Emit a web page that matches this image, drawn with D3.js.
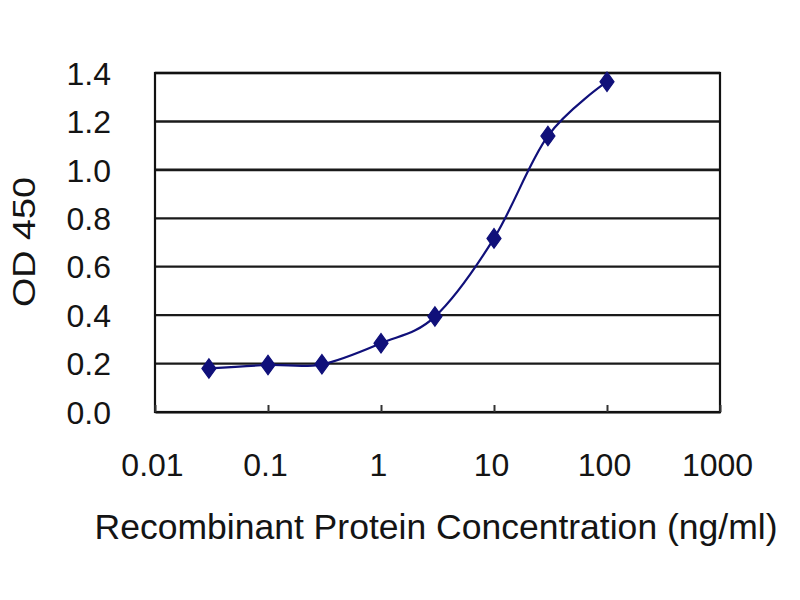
<!DOCTYPE html>
<html><head><meta charset="utf-8">
<script src="https://cdn.jsdelivr.net/npm/d3@7"></script>
<style>html,body{margin:0;padding:0;background:#fff;}svg{display:block;}</style>
</head><body>
<svg id="c" width="800" height="600"></svg>
<script>
const concentrations = [0.03, 0.1, 0.3, 1, 3, 10, 30, 100];
const odValues = [0.18, 0.194, 0.197, 0.284, 0.394, 0.717, 1.14, 1.364];
const xTickValues = [0.01, 0.1, 1, 10, 100, 1000];
const xTickLabels = ["0.01", "0.1", "1", "10", "100", "1000"];
const yTickValues = [0, 0.2, 0.4, 0.6, 0.8, 1.0, 1.2, 1.4];
const yTickLabels = ["0.0", "0.2", "0.4", "0.6", "0.8", "1.0", "1.2", "1.4"];
const xTitle = "Recombinant Protein Concentration (ng/ml)";
const yTitle = "OD 450";

const svg = d3.select("#c");
const L = 155, R = 720, T = 73, B = 412;
const x = d3.scaleLog().domain([0.01, 1000]).range([L, R]);
const y = d3.scaleLinear().domain([0, 1.4]).range([B, T]);
const font = "'Liberation Sans', Arial, sans-serif";
const navy = "#10107a";

// gridlines
svg.append("g").selectAll("line").data(yTickValues.slice(1)).join("line")
  .attr("x1", L).attr("x2", R)
  .attr("y1", d => y(d)).attr("y2", d => y(d))
  .attr("stroke", "#1a1a1a").attr("stroke-width", d => d >= 1.0 ? 2.6 : 2.2);

// frame
svg.append("rect").attr("x", L).attr("y", T).attr("width", R - L).attr("height", B - T)
  .attr("fill", "none").attr("stroke", "#111").attr("stroke-width", 2.2);

// x axis with inside ticks
const xAxis = d3.axisBottom(x).tickValues(xTickValues)
  .tickFormat((d, i) => xTickLabels[i]).tickSizeInner(-7).tickSizeOuter(0).tickPadding(0);
const gx = svg.append("g").attr("transform", `translate(0,${B})`).call(xAxis);
gx.select(".domain").attr("stroke", "#111").attr("stroke-width", 2.2);
gx.selectAll(".tick line").attr("stroke", "#333").attr("stroke-width", 2);
gx.selectAll(".tick text").attr("font-family", font).attr("font-size", 32).attr("fill", "#141414")
  .attr("dy", 0).attr("y", 64).attr("x", -3);

// y axis labels
const yAxis = d3.axisLeft(y).tickValues(yTickValues)
  .tickFormat((d, i) => yTickLabels[i]).tickSize(0).tickPadding(0);
const gy = svg.append("g").attr("transform", `translate(${L},0)`).call(yAxis);
gy.select(".domain").remove();
gy.selectAll(".tick text").attr("font-family", font).attr("font-size", 32).attr("fill", "#141414")
  .attr("x", -44).attr("dy", "0.35em");

// curve
const line = d3.line().x(d => x(d[0])).y(d => y(d[1])).curve(d3.curveCardinal.tension(0));
const pts = concentrations.map((c, i) => [c, odValues[i]]);
svg.append("path").datum(pts).attr("d", line).attr("fill", "none")
  .attr("stroke", navy).attr("stroke-width", 2.2);

// diamond markers
const sym = d3.symbol().type(d3.symbolDiamond).size(110);
svg.append("g").selectAll("path").data(pts).join("path")
  .attr("d", sym)
  .attr("transform", d => `translate(${x(d[0])},${y(d[1])}) scale(1.25,1)`)
  .attr("fill", navy).attr("stroke", navy).attr("stroke-width", 1);

// titles
svg.append("text").attr("x", 436).attr("y", 539).attr("text-anchor", "middle")
  .attr("font-family", font).attr("font-size", 35).attr("fill", "#141414")
  .attr("textLength", 683).attr("lengthAdjust", "spacingAndGlyphs").text(xTitle);
svg.append("text").attr("transform", "translate(35,242) rotate(-90)").attr("text-anchor", "middle")
  .attr("font-family", font).attr("font-size", 32).attr("fill", "#141414")
  .attr("textLength", 130).attr("lengthAdjust", "spacingAndGlyphs").text(yTitle);
</script>
</body></html>
